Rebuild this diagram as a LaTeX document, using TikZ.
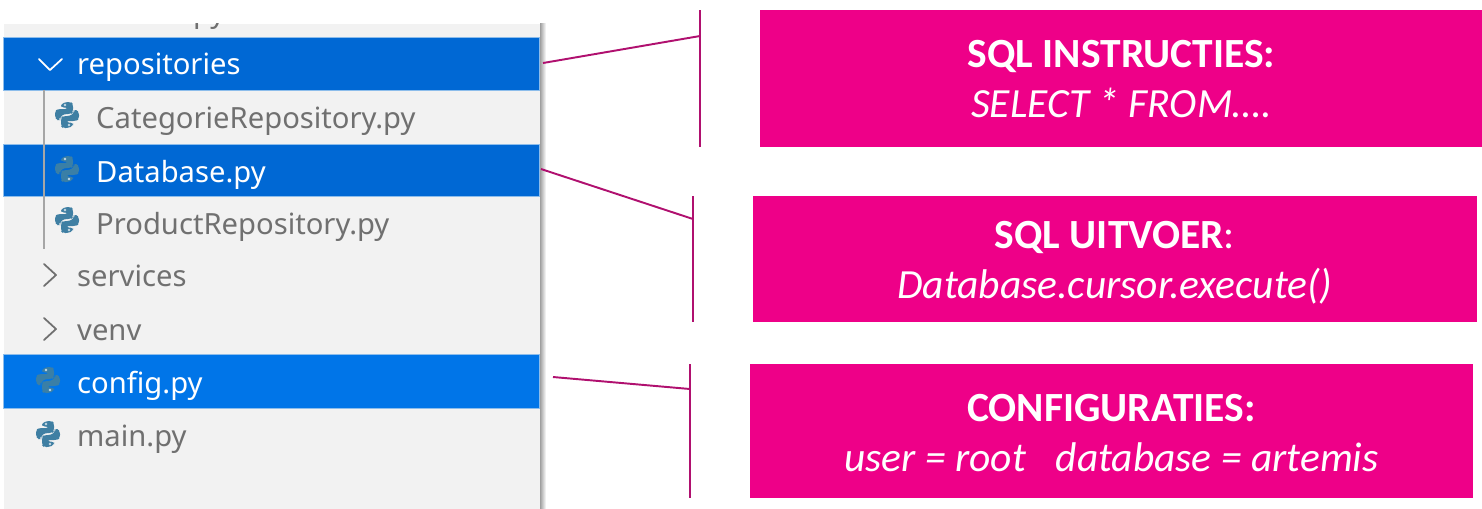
\documentclass[tikz,border=0pt]{standalone}
\usepackage{fontspec}
\setmainfont{Carlito}
\newfontfamily\treefont{Noto Sans}
\usepackage{tikz}
\usetikzlibrary{positioning, calc}

\definecolor{panelgrey}{HTML}{F2F2F2}
\definecolor{rowblue}{HTML}{0068D4}
\definecolor{rowbright}{HTML}{0075E8}
\definecolor{rowedge}{HTML}{8DBDEB}
\definecolor{treetext}{HTML}{707070}
\definecolor{calloutpink}{HTML}{EE0088}
\definecolor{plum}{HTML}{B0106F}
\definecolor{pyblue}{HTML}{3F7FA3}
\definecolor{pydim}{HTML}{3A7FA6}

\tikzset{
  rowsel/.style={fill=#1, draw=rowedge, line width=0.3pt, minimum width=5.36cm, minimum height=0.52cm, inner sep=0pt, anchor=north west},
  rowtext/.style={anchor=base west, inner sep=0pt, text=treetext, font=\treefont\fontsize{8.3}{10}\selectfont},
  seltext/.style={rowtext, text=white},
  callout/.style={fill=calloutpink, text=white, anchor=north west, inner sep=0pt, align=center, font=\fontsize{11.8}{14.2}\selectfont},
  leader/.style={draw=plum, line width=0.55pt},
  chevron/.style={line width=0.5pt, line cap=round, line join=round},
  pics/pyicon/.style={code={
    \foreach \turn in {0,180} {
      \fill[#1, rounded corners=0.8pt, rotate=\turn] (-1,-13) -- (4,-13) -- (6,-11) -- (6,-3) -- (4,-1) -- (-3,-1) -- (-7,2) -- (-7,5) -- (-9,5) -- (-12,3) -- (-12,-4) -- (-9,-6) -- (1,-6) -- (1,-7.5) -- (-6,-7.5) -- (-6,-11) -- cycle;
      \fill[white, opacity=0.7, rotate=\turn] (-2,-10) circle (1.3);
    }
  }}
}

\begin{document}
\begin{tikzpicture}[x=0.01cm, y=-0.01cm]
    \useasboundingbox (0,0) rectangle (1482,508);

    \shade[left color=gray!75, right color=white] (540,23) rectangle (546,508);
    \node[fill=panelgrey, minimum width=5.36cm, minimum height=4.85cm, inner sep=0pt, anchor=north west] (panel) at (3,23) {};

    \begin{scope}
      \clip (3,23) rectangle (540,60);
      \node[rowtext, anchor=base east] (toppy) at (226,22) {py};
    \end{scope}

    \node[rowsel=rowblue, minimum height=0.53cm] (rowrepo) at (3,37) {};
    \node[rowsel=rowblue] (rowdb) at (3,144) {};
    \node[rowsel=rowbright, minimum height=0.54cm] (rowcfg) at (3,354) {};

    \draw[gray!70, line width=0.45pt] (44,90) -- (44,249);

    \node[seltext] (repo) at (76.5,74) {repositories};
    \node[rowtext] (cat) at (95.5,128) {CategorieRepository.py};
    \node[seltext] (db) at (95.5,182) {Database.py};
    \node[rowtext] (prod) at (95.5,234) {ProductRepository.py};
    \node[rowtext] (serv) at (76.5,286) {services};
    \node[rowtext] (venv) at (76.5,340) {venv};
    \node[seltext] (cfg) at (76.5,393) {config.py};
    \node[rowtext] (mainpy) at (76.5,446) {main.py};

    \pic at (67,115) {pyicon=pyblue};
    \pic at (67,169) {pyicon=pydim};
    \pic at (67,220) {pyicon=pyblue};
    \pic at (48,380) {pyicon=pydim};
    \pic at (48,434) {pyicon=pyblue};

    \draw[chevron, white] (39,59) -- (50,70) -- (62,59);
    \draw[chevron, treetext] (44,264) -- (56,275) -- (44,286);
    \draw[chevron, treetext] (44,318) -- (56,329) -- (44,340);

    \node[callout, minimum width=7.22cm, minimum height=1.37cm] (instr) at (759.5,9.5) {\textbf{SQL INSTRUCTIES:}\\\textit{SELECT * FROM….}};
    \node[callout, minimum width=7.23cm, minimum height=1.26cm] (exec) at (752.5,195.5) {\rule{0pt}{9.8pt}\textbf{SQL UITVOER}:\\\textit{Database.cursor.execute()}};
    \node[callout, minimum width=7.22cm, minimum height=1.34cm] (conf) at (749.5,363.5) {\rule{0pt}{8.7pt}\textbf{CONFIGURATIES:}\\\textit{user = root\hspace{8.5pt}database = artemis}};

    \coordinate (repoend) at (543,63);
    \coordinate (dbend) at (541,169);
    \coordinate (cfgend) at (553,377);
    \coordinate (instrtop) at (700,10);
    \coordinate (instrmid) at (700,36);
    \coordinate (instrbot) at (700,147);
    \coordinate (exectop) at (693,196);
    \coordinate (execmid) at (693,219);
    \coordinate (execbot) at (693,322);
    \coordinate (conftop) at (690,364);
    \coordinate (confmid) at (690,389);
    \coordinate (confbot) at (690,498);

    \draw[leader] (instrtop) -- (instrbot);
    \draw[leader] (repoend) -- (instrmid);
    \draw[leader] (exectop) -- (execbot);
    \draw[leader] (dbend) -- (execmid);
    \draw[leader] (conftop) -- (confbot);
    \draw[leader] (cfgend) -- (confmid);
\end{tikzpicture}
\end{document}
